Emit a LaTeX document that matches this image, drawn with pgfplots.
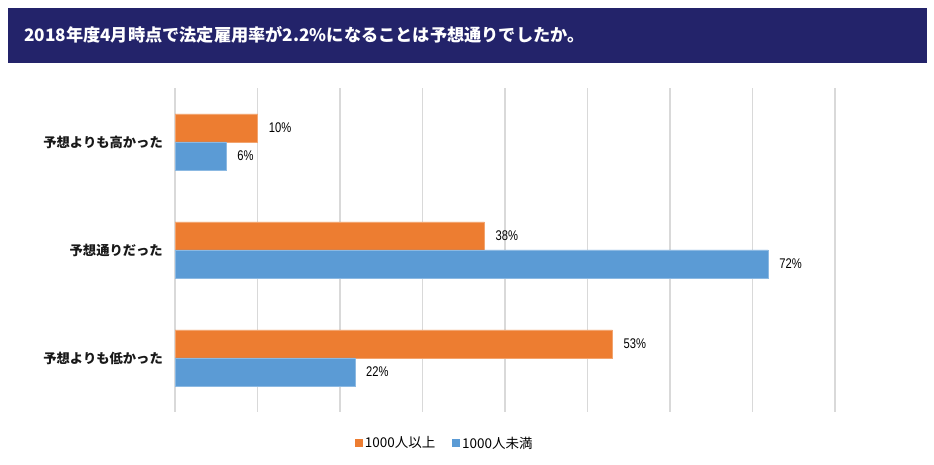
\documentclass[border=0pt]{standalone}
\usepackage{pgfplots}
\pgfplotsset{compat=1.18}
\usepackage{fontspec}
\usepackage{graphicx}
\setmainfont{Noto Sans CJK JP}
\newfontfamily\numfont{Liberation Sans}
\definecolor{titlebg}{HTML}{23236A}
\definecolor{orangebar}{HTML}{ED7D31}
\definecolor{bluebar}{HTML}{5B9BD5}
\definecolor{gridc}{HTML}{D9D9D9}
\begin{document}
\begin{tikzpicture}[x=1pt,y=1pt]
\useasboundingbox (0,0) rectangle (934,465);
\fill[titlebg] (8,457) rectangle (927,402);
\node[anchor=west,inner sep=0pt,text=white,font=\fontsize{17.2}{20}\selectfont\bfseries] at (24,430) {2018年度4月時点で法定雇用率が2.2\%になることは予想通りでしたか。};
\begin{axis}[
  at={(175pt,53pt)}, anchor=south west,
  scale only axis, width=660pt, height=324pt,
  xbar, bar width=28pt,
  xmin=0, xmax=80, ymin=-0.5, ymax=2.5,
  xtick={0,10,...,80}, xticklabels={},
  xmajorgrids, grid style={line width=1.3pt, gridc},
  ytick={0,1,2},
  yticklabels={予想よりも低かった,予想通りだった,予想よりも高かった},
  yticklabel style={font=\fontsize{13.3}{15}\selectfont\bfseries, text=black!90, anchor=east, inner sep=0pt, xshift=-12pt},
  axis line style={draw=none}, major tick length=0pt,
  point meta=explicit symbolic,
  nodes near coords={\scalebox{0.8}[1]{\numfont\pgfplotspointmeta\%}},
  nodes near coords align=horizontal,
  every node near coord/.append style={font=\fontsize{14}{16}\selectfont, anchor=west, inner sep=0pt, xshift=11pt, text=black},
  legend style={at={(0.409,-0.096)}, anchor=center, draw=none, legend columns=2,
    font=\fontsize{13.5}{15}\selectfont, column sep=0pt,
    /tikz/every even column/.append style={column sep=15pt}},
  legend cell align=left,
]
\addplot[fill=orangebar, draw=orangebar!70!white, line width=0.6pt, bar shift=14pt,
  legend image code/.code={\fill[orangebar] (0pt,-3.5pt) rectangle (7pt,3.5pt);}]
  table[x=x, y=y, meta=l] {
x y l
10 2 10
37.5 1 38
53 0 53
};
\addlegendentry{1000人以上}
\addplot[fill=bluebar, draw=bluebar!70!white, line width=0.6pt, bar shift=-14pt,
  legend image code/.code={\fill[bluebar] (0pt,-3.5pt) rectangle (7pt,3.5pt);}]
  table[x=x, y=y, meta=l] {
x y l
6.2 2 6
71.9 1 72
21.8 0 22
};
\addlegendentry{1000人未満}
\end{axis}
\end{tikzpicture}
\end{document}
